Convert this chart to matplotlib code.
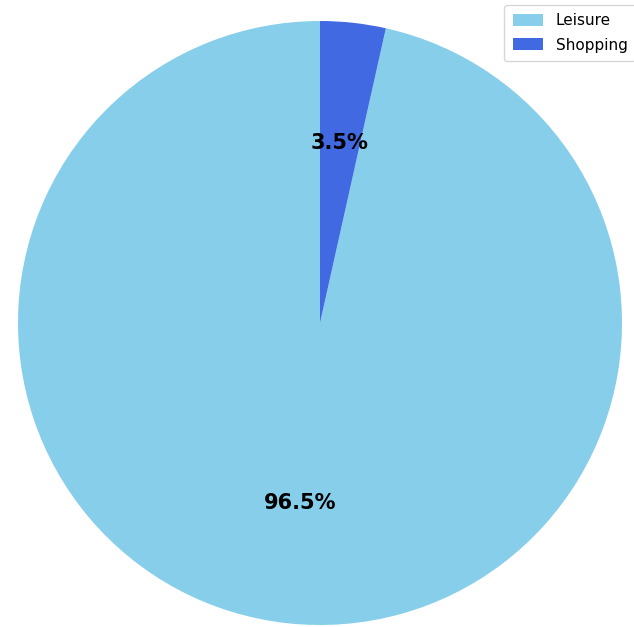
import matplotlib.pyplot as plt

# データ
labels = ['Leisure', 'Shopping']
values = [96.5, 3.5]
colors = ['skyblue', 'royalblue']

fig = plt.figure(figsize=(6.34, 6.27), dpi=100)
ax = fig.add_axes([18 / 634, 2 / 627, 604 / 634, 604 / 627])

wedges, texts, autotexts = ax.pie(
    values, colors=colors, startangle=90, autopct='%1.1f%%',
    textprops={'fontsize': 15, 'fontweight': 'bold'}
)
ax.set_xlim(-1, 1)
ax.set_ylim(-1, 1)
ax.set_aspect('equal')
ax.axis('off')

fig.legend(wedges, labels, loc='upper right', bbox_to_anchor=(1.003, 0.992),
           fontsize=11, borderaxespad=0, labelspacing=0.6, borderpad=0.55,
           handleheight=0.8)

plt.savefig('out.png', dpi=100)
